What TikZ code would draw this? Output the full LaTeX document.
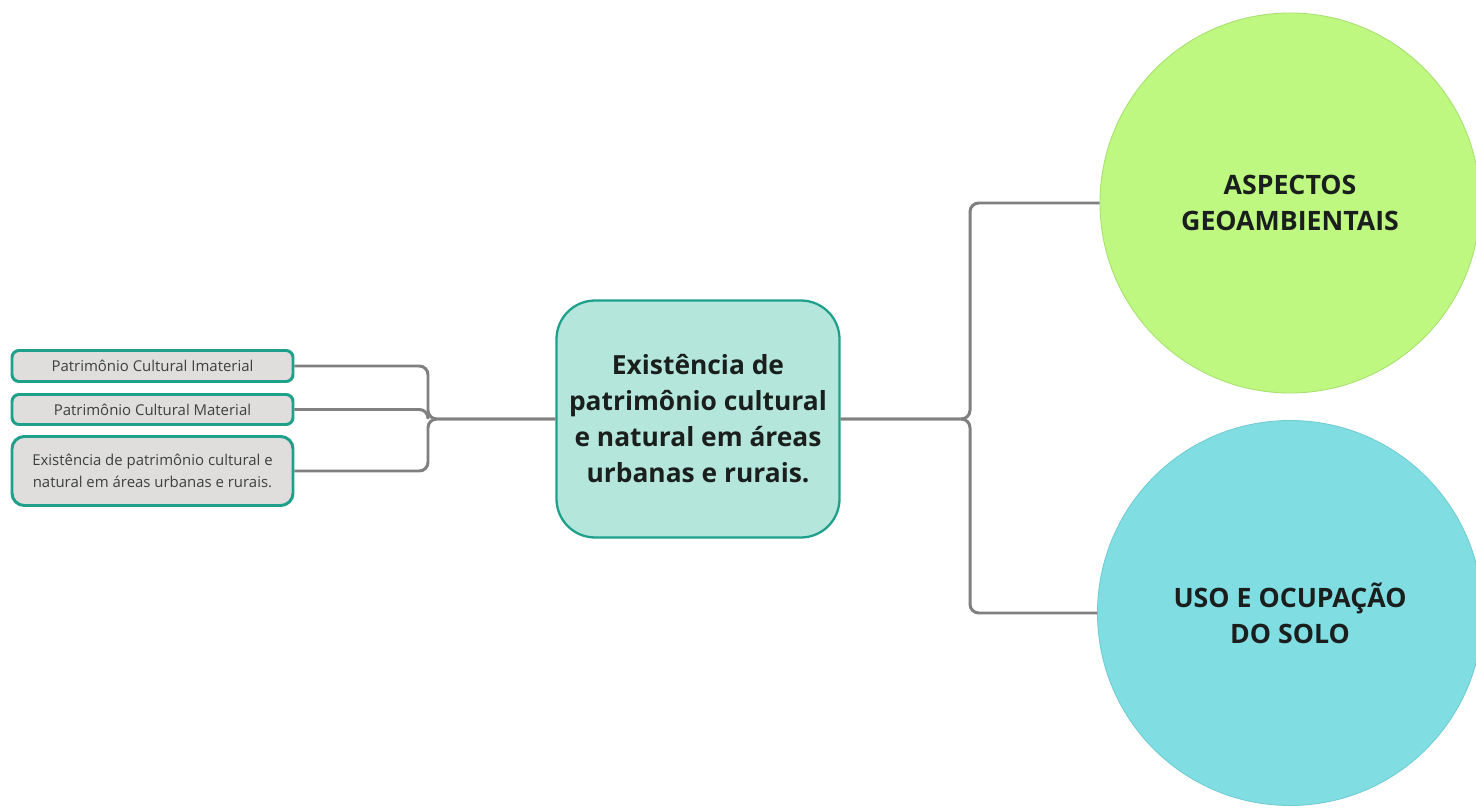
\documentclass[tikz,border=0pt]{standalone}
\usepackage{fontspec}
\setmainfont{Open Sans}
\usepackage{tikz}
\usetikzlibrary{positioning, calc}

\definecolor{tealline}{HTML}{1FA08A}
\definecolor{tealfill}{HTML}{B4E6DC}
\definecolor{leaffill}{HTML}{E0DEDC}
\definecolor{connline}{HTML}{808080}
\definecolor{geofill}{HTML}{BEF880}
\definecolor{geoline}{HTML}{A8E070}
\definecolor{usofill}{HTML}{80DEE3}
\definecolor{usoline}{HTML}{70CCD2}
\definecolor{inkdark}{HTML}{1A1F1E}

\begin{document}
\begin{tikzpicture}[
    font=\fontsize{8.5}{12.5}\selectfont,
    leaf/.style={draw=tealline, line width=1.7pt, rounded corners=4pt, align=center, inner sep=2pt, fill=leaffill, text=inkdark!85, minimum width=5.62cm},
    core/.style={draw=tealline, line width=1.3pt, rounded corners=22pt, align=center, fill=tealfill, text=inkdark, minimum width=5.66cm, minimum height=4.74cm, font=\fontsize{15}{20.5}\selectfont\bfseries},
    topic/.style={circle, line width=0.5pt, align=center, text=inkdark, font=\fontsize{15.2}{20.5}\selectfont\bfseries},
    conn/.style={draw=connline, line width=1.7pt, rounded corners=5pt}
]
\useasboundingbox (0,0) rectangle (29.52,16.18);

% --------------------------------------------------------------------------
% Central theme
% --------------------------------------------------------------------------
\node[core] (main) at (13.96,7.8) {Existência de\\patrimônio cultural\\e natural em áreas\\urbanas e rurais.};

% Left branches
\node[leaf, minimum height=0.62cm] (imat) at (3.05,8.86) {Patrimônio Cultural Imaterial};
\node[leaf, minimum height=0.6cm] (mat) at (3.05,7.99) {Patrimônio Cultural Material};
\node[leaf, minimum height=1.38cm, rounded corners=7pt] (exist) at (3.05,6.76) {Existência de patrimônio cultural e\\natural em áreas urbanas e rurais.};

\coordinate (jl) at (8.56,7.8);
\draw[conn] (imat.east) -| (jl) -- (main.west);
\draw[conn] (mat.east) -| (jl);
\draw[conn] (exist.east) -| (jl) -- (main.west);

% Right branches
\node[topic, fill=geofill, draw=geoline, minimum size=7.6cm] (geo) at (25.8,12.12) {ASPECTOS\\GEOAMBIENTAIS};
\node[topic, fill=usofill, draw=usoline, minimum size=7.7cm] (uso) at (25.8,3.92) {USO E OCUPAÇÃO\\DO SOLO};

\coordinate (jr) at (19.4,7.8);
\draw[conn] (main.east) -- (jr) |- (geo.west);
\draw[conn] (main.east) -- (jr) |- (uso.west);

\end{tikzpicture}
\end{document}
